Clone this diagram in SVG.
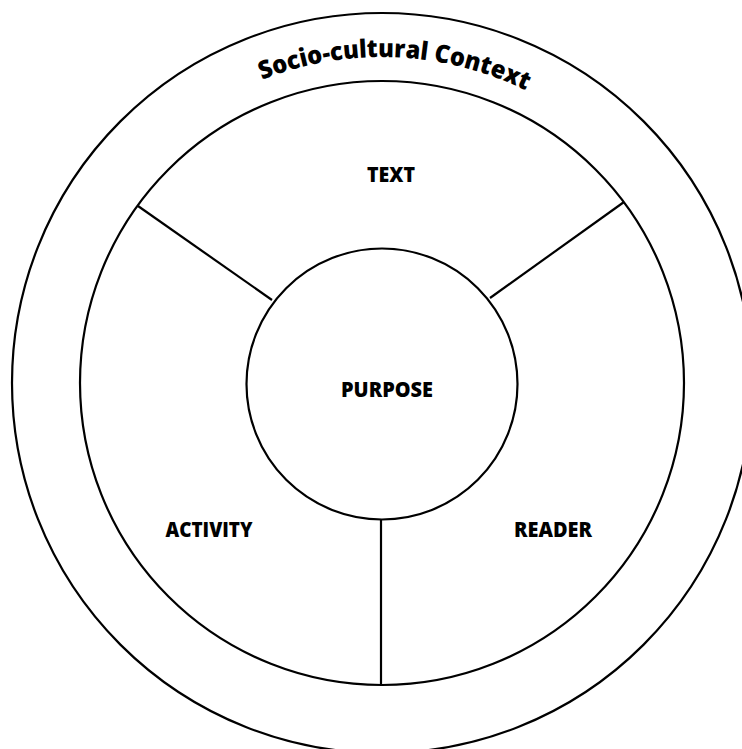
<svg xmlns="http://www.w3.org/2000/svg" width="742" height="749" viewBox="0 0 742 749">
  <style>
    .ring { fill: none; stroke: #000; stroke-width: 2.2; }
    .div { stroke: #000; stroke-width: 2.2; fill: none; }
    .lbl { font-family: "Open Sans", "Liberation Sans", sans-serif; font-weight: 800; font-size: 21px; fill: #000; text-anchor: middle; }
    .ctx { font-family: "Open Sans", "Liberation Sans", sans-serif; font-weight: 800; font-size: 25px; fill: #000; }
  </style>
  <defs>
    <path id="ctxArc" d="M106.4,208.8 A326,326 0 0 1 670.6,231.5"/>
  </defs>
  <rect x="0" y="0" width="742" height="749" fill="#fff"/>
  <g id="context">
    <circle class="ring" cx="382" cy="383" r="370"/>
    <text class="ctx"><textPath href="#ctxArc" startOffset="50%" text-anchor="middle" textLength="272" lengthAdjust="spacingAndGlyphs">Socio-cultural Context</textPath></text>
  </g>
  <g id="inner-circle">
    <circle class="ring" cx="382" cy="383" r="302"/>
  </g>
  <g id="text-node">
    <text class="lbl" x="391" y="182" textLength="48" lengthAdjust="spacingAndGlyphs">TEXT</text>
  </g>
  <g id="activity-node">
    <text class="lbl" x="209" y="537" textLength="87" lengthAdjust="spacingAndGlyphs">ACTIVITY</text>
  </g>
  <g id="reader-node">
    <text class="lbl" x="553" y="537" textLength="78" lengthAdjust="spacingAndGlyphs">READER</text>
  </g>
  <g id="purpose-node">
    <circle class="ring" cx="382" cy="384" r="135.5" fill="#fff"/>
    <text class="lbl" x="387" y="397" textLength="92" lengthAdjust="spacingAndGlyphs">PURPOSE</text>
  </g>
  <g id="connectors">
    <line class="div" x1="138" y1="206" x2="272" y2="300"/>
    <line class="div" x1="624" y1="202" x2="490" y2="298"/>
    <line class="div" x1="381" y1="519.5" x2="381" y2="685"/>
  </g>
</svg>
